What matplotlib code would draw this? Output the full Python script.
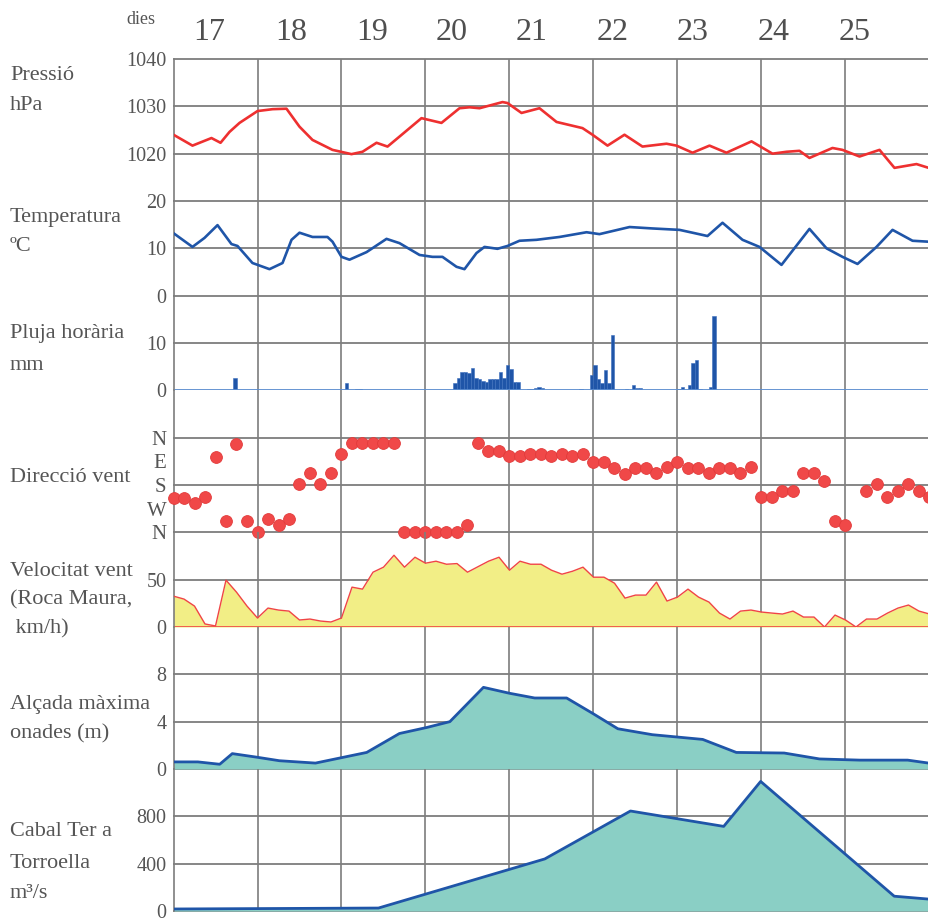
import numpy as np
import matplotlib
matplotlib.use("Agg")
import matplotlib.pyplot as plt
from matplotlib.transforms import blended_transform_factory

# ---------------- data (time in days since the 17th, 00:00) ----------------
day_labels = [17, 18, 19, 20, 21, 22, 23, 24, 25]
day_label_pos = [0.43, 1.40, 2.36, 3.31, 4.26, 5.23, 6.18, 7.14, 8.11]

pres_t = [0.0, 0.226, 0.452, 0.56, 0.667, 0.786, 1.0, 1.18, 1.345, 1.5, 1.655, 1.893,
          2.119, 2.25, 2.417, 2.548, 2.69, 2.952, 3.19, 3.405, 3.524, 3.643, 3.917, 3.976,
          4.143, 4.357, 4.56, 4.869, 4.988, 5.167, 5.369, 5.583, 5.869, 5.988, 6.179,
          6.381, 6.583, 6.881, 7.131, 7.298, 7.452, 7.571, 7.845, 7.964, 8.167, 8.405,
          8.583, 8.845, 8.99]
pres_v = [1024.0, 1021.7, 1023.3, 1022.3, 1024.6, 1026.5, 1029.0, 1029.4, 1029.5, 1025.7,
          1022.9, 1020.8, 1019.9, 1020.4, 1022.3, 1021.5, 1023.6, 1027.5, 1026.5, 1029.6,
          1029.8, 1029.6, 1030.9, 1030.7, 1028.6, 1029.6, 1026.7, 1025.4, 1024.0, 1021.7,
          1024.0, 1021.5, 1022.1, 1021.7, 1020.2, 1021.7, 1020.2, 1022.6, 1020.0, 1020.4,
          1020.6, 1019.1, 1021.2, 1020.8, 1019.4, 1020.8, 1017.0, 1017.8, 1017.0]

temp_t = [0.0, 0.226, 0.369, 0.524, 0.690, 0.762, 0.940, 1.143, 1.298, 1.405, 1.5, 1.655,
          1.833, 1.893, 2.0, 2.095, 2.298, 2.536, 2.690, 2.929, 3.083, 3.202, 3.369, 3.464,
          3.607, 3.702, 3.857, 3.976, 4.119, 4.321, 4.595, 4.917, 5.071, 5.429, 5.702,
          6.024, 6.179, 6.357, 6.536, 6.774, 6.976, 7.238, 7.571, 7.774, 7.964, 8.143,
          8.369, 8.560, 8.798, 8.99]
temp_v = [13.2, 10.3, 12.2, 14.9, 10.9, 10.5, 6.9, 5.6, 6.9, 11.8, 13.3, 12.4, 12.4, 11.4,
          8.2, 7.6, 9.2, 12.0, 11.1, 8.6, 8.2, 8.2, 6.1, 5.6, 9.0, 10.3, 9.9, 10.5, 11.6,
          11.8, 12.4, 13.4, 13.0, 14.5, 14.2, 13.9, 13.3, 12.6, 15.4, 11.8, 10.3, 6.5, 14.1,
          10.0, 8.2, 6.7, 10.3, 13.9, 11.6, 11.4]

rain_hour = [17, 49, 52, 53, 80, 81, 82, 83, 84, 85, 86, 87, 88, 89, 90, 91, 92, 93, 94, 95,
             96, 97, 98, 101, 102, 103, 104, 105, 106, 107, 116, 119, 120, 121, 122, 123,
             124, 125, 129, 131, 132, 133, 144, 145, 147, 148, 149, 150, 153, 154]
rain_mm = [2.7, 1.5, 0.2, 0.2, 1.5, 2.7, 3.8, 3.8, 3.6, 4.8, 2.7, 2.5, 1.9, 1.7, 2.3, 2.5,
           2.5, 3.8, 2.7, 5.3, 4.6, 1.7, 1.7, 0.2, 0.3, 0.5, 0.8, 0.4, 0.1, 0.1, 0.3, 3.2,
           5.3, 2.5, 1.5, 4.4, 1.5, 11.6, 0.2, 1.2, 0.4, 0.4, 0.3, 0.7, 1.2, 5.7, 6.5, 0.3,
           0.8, 15.6]

# 3-hourly wind observations
wind_dir = [231, 231, 250, 227, 72, 318, 23, 318, 360, 311, 333, 311, 178, 136, 178, 136,
            64, 19, 19, 19, 19, 19, 360, 360, 360, 360, 360, 360, 333, 22, 49, 49, 68, 68,
            64, 64, 68, 64, 68, 64, 91, 91, 117, 140, 114, 114, 136, 110, 91, 117, 117, 133,
            114, 114, 136, 110, 227, 227, 201, 201, 136, 136, 163, 315, 333, np.nan, 201,
            178, 227, 201, 178, 201, 224]
wind_speed = [32.6, 29.5, 22.1, 3.2, 1.1, 49.5, 36.8, 22.1, 9.5, 20.0, 17.9, 16.8, 7.4, 8.4,
              6.3, 5.3, 9.5, 42.1, 40.0, 57.9, 63.2, 75.8, 63.2, 73.7, 67.4, 69.5, 66.3, 67.0,
              57.9, 63.7, 69.5, 73.7, 60.0, 69.5, 66.3, 66.3, 60.0, 55.8, 58.9, 63.2, 52.6,
              52.6, 46.3, 30.5, 33.7, 33.7, 47.4, 27.4, 31.6, 40.0, 31.6, 26.3, 14.7, 8.4,
              16.8, 17.9, 15.8, 14.7, 13.7, 16.8, 10.5, 10.5, 0.0, 12.6, 7.4, 0.0, 8.4, 8.4,
              14.7, 20.0, 23.2, 16.8, 13.7]

wave_t = [0.0, 0.29, 0.55, 0.70, 0.99, 1.26, 1.69, 2.30, 2.69, 3.01, 3.29, 3.69, 4.0, 4.30,
          4.68, 4.99, 5.29, 5.70, 6.30, 6.70, 7.27, 7.69, 8.17, 8.74, 8.99]
wave_h = [0.6, 0.6, 0.4, 1.3, 1.0, 0.7, 0.5, 1.4, 3.0, 3.5, 4.0, 6.9, 6.4, 6.0, 6.0, 4.7,
          3.4, 2.9, 2.5, 1.4, 1.35, 0.85, 0.75, 0.75, 0.5]

flow_t = [0.0, 2.44, 4.42, 5.44, 6.55, 6.99, 8.58, 9.0]
flow_v = [17, 25, 440, 845, 715, 1095, 125, 100]

# ---------------- styling ----------------
FONT = ["Liberation Serif", "DejaVu Serif"]
TXT = "#555555"
GRID = "#7d7d7d"
RED = "#ee3030"
BLUE = "#1f55a8"
W, H = 929, 918
L_PX, AX_W_PX = 173.5, 756.0
TOP_PX, ROW = 59.0, 852.0 / 18

plt.rcParams["font.family"] = FONT
fig = plt.figure(figsize=(W / 100, H / 100), dpi=100)


def make_ax(r0, r1):
    top = TOP_PX + ROW * r0
    bot = TOP_PX + ROW * r1
    ax = fig.add_axes([L_PX / W, 1 - bot / H, AX_W_PX / W, (bot - top) / H])
    ax.set_facecolor("none")
    ax.set_xlim(0, 9)
    ax.set_xticks(range(1, 9))
    ax.tick_params(axis="x", length=0, labelbottom=False)
    ax.grid(axis="x", color=GRID, lw=1.2, zorder=0)
    for s in ("top", "right", "bottom"):
        ax.spines[s].set_visible(False)
    ax.spines["left"].set_color(GRID)
    ax.spines["left"].set_linewidth(1.2)
    ax.tick_params(axis="y", length=0, pad=5, labelsize=14.5, labelcolor=TXT)
    ax.set_axisbelow(True)
    return ax


def hlines(ax, vals, color=GRID, lw=1.3):
    for v in vals:
        ax.axhline(v, color=color, lw=lw, zorder=0.5, clip_on=False)


# Pressure
axP = make_ax(0, 3)
axP.set_ylim(1010, 1040)
axP.set_yticks([1020, 1030, 1040], ["1020", "1030", "1040"])
hlines(axP, [1020, 1030, 1040])
axP.plot(pres_t, pres_v, color=RED, lw=1.9, solid_joinstyle="round", zorder=3)

# Temperature
axT = make_ax(3, 5)
axT.set_ylim(0, 20)
axT.set_yticks([0, 10, 20], ["0", "10", "20"])
hlines(axT, [0, 10, 20])
axT.plot(temp_t, temp_v, color=BLUE, lw=1.9, solid_joinstyle="round", zorder=3)

# Rain
axR = make_ax(5, 7)
axR.set_ylim(0, 20)
axR.set_yticks([0, 10], ["0", "10"])
hlines(axR, [10])
axR.bar(np.array(rain_hour) / 24.0, rain_mm, width=1 / 24.0, align="edge",
        color=BLUE, edgecolor="#3d6fbd", lw=0.4, zorder=3)
axR.axhline(0, color="#5a8ccf", lw=1.3, zorder=4)

# Wind direction
axD = make_ax(7, 10)
axD.set_ylim(360, -180)
axD.set_yticks([0, 90, 180, 270, 360], ["N", "E", "S", "W", "N"])
axD.tick_params(axis="y", labelsize=15)
hlines(axD, [0, 180, 360])
dir_t = np.arange(len(wind_dir)) * 3 / 24.0
axD.plot(dir_t, wind_dir, "o", ms=8.5, mfc="#f04848", mec="#e23a3a", mew=0.6,
         clip_on=False, zorder=5)

# Wind speed
axV = make_ax(10, 12)
axV.set_ylim(0, 100)
axV.set_yticks([0, 50], ["0", "50"])
hlines(axV, [50])
spd_t = np.arange(len(wind_speed)) * 3 / 24.0
axV.fill_between(spd_t, 0, wind_speed, color="#f2ee86", lw=0, zorder=2)
axV.plot(spd_t, wind_speed, color="#f04545", lw=1.0, zorder=3)
axV.axhline(0, color="#f04545", lw=1.2, zorder=3)

# Wave height
axA = make_ax(12, 15)
axA.set_ylim(0, 12)
axA.set_yticks([0, 4, 8], ["0", "4", "8"])
hlines(axA, [0, 4, 8])
axA.fill_between(wave_t, 0, wave_h, color="#8acfc5", lw=0, zorder=2)
axA.plot(wave_t, wave_h, color=BLUE, lw=2.0, zorder=3)

# River flow
axC = make_ax(15, 18)
axC.set_ylim(0, 1200)
axC.set_yticks([0, 400, 800], ["0", "400", "800"])
hlines(axC, [0, 400, 800])
axC.fill_between(flow_t, 0, flow_v, color="#8acfc5", lw=0, zorder=2)
axC.plot(flow_t, flow_v, color=BLUE, lw=2.0, zorder=3)

# Day labels on top
tr = blended_transform_factory(axP.transData, fig.transFigure)
for d, x in zip(day_labels, day_label_pos):
    axP.text(x, 1 - 40 / H, str(d), transform=tr, ha="center", va="baseline",
             fontsize=23, color="#4f4f4f", clip_on=False)
fig.text(155 / W, 1 - 24 / H, "dies", ha="right", va="baseline", fontsize=13, color=TXT)

# Panel titles
titles = [("Pressió", 80), ("hPa", 110),
          ("Temperatura", 222), ("ºC", 251),
          ("Pluja horària", 338), ("mm", 370),
          ("Direcció vent", 482),
          ("Velocitat vent", 576), ("(Roca Maura,", 604), (" km/h)", 633),
          ("Alçada màxima", 709), ("onades (m)", 738),
          ("Cabal Ter a", 836), ("Torroella", 868), ("m³/s", 898)]
for s, y in titles:
    fig.text(10 / W, 1 - y / H, s, ha="left", va="baseline", fontsize=16, color=TXT)

fig.savefig("out.png", dpi=100)
